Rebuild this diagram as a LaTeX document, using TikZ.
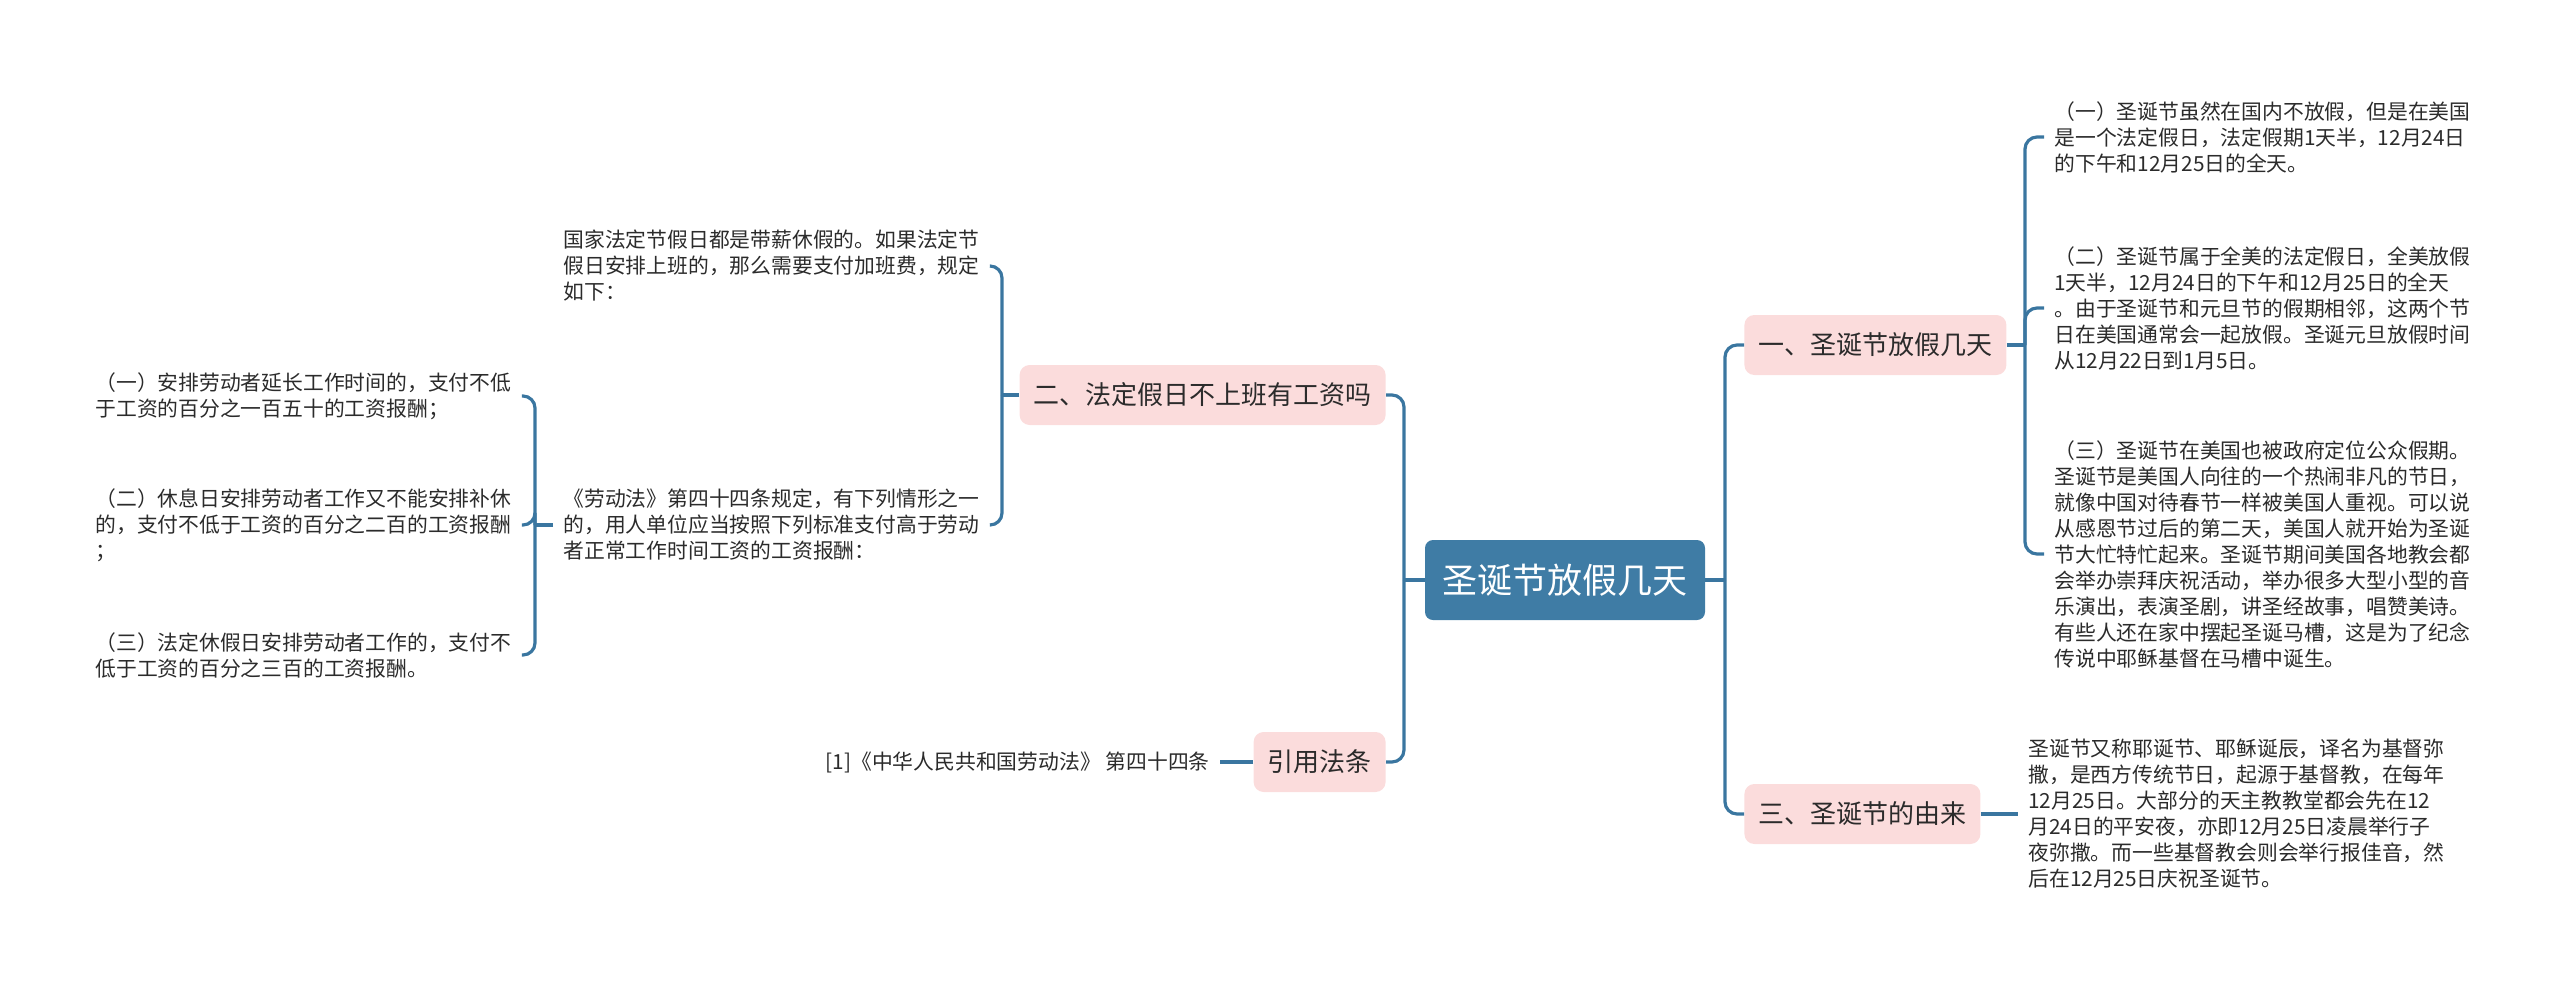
\documentclass[tikz,border=0pt]{standalone}
\usepackage{fontspec}
\newfontfamily\cjk{Noto Sans CJK SC}
\usepackage{tikz}

\definecolor{rootblue}{HTML}{3F7CA5}
\definecolor{linkblue}{HTML}{3A76A0}
\definecolor{topicpink}{HTML}{FBDCDC}
\definecolor{textgray}{HTML}{2B2B2B}

\begin{document}
\begin{tikzpicture}[
x=0.5pt, y=-0.5pt,
root/.style={fill=rootblue, rounded corners=4pt, text=white, minimum width=140pt, minimum height=40pt, font={\cjk\fontsize{17.5pt}{21pt}\selectfont}},
topic/.style={fill=topicpink, rounded corners=5pt, text=textgray, inner xsep=7pt, minimum height=30pt, font={\cjk\fontsize{13pt}{16pt}\selectfont}},
leaf/.style={align=left, text=textgray, inner xsep=5pt, inner ysep=2pt, font={\cjk\fontsize{10.4pt}{13pt}\selectfont}},
link/.style={draw=linkblue, line width=1.6pt, rounded corners=6pt}
]
\useasboundingbox (0,0) rectangle (2560,991);

\node[root] (xmas) at (1565,580) {圣诞节放假几天};

% right side
\node[topic, anchor=west] (days) at (1744,345) {一、圣诞节放假几天};
\node[topic, anchor=west] (origin) at (1744,814) {三、圣诞节的由来};

\node[leaf, anchor=west] (day1) at (2044,137) {（一）圣诞节虽然在国内不放假，但是在美国\\是一个法定假日，法定假期1天半，12月24日\\的下午和12月25日的全天。};
\node[leaf, anchor=west] (day2) at (2044,308) {（二）圣诞节属于全美的法定假日，全美放假\\1天半，12月24日的下午和12月25日的全天\\。由于圣诞节和元旦节的假期相邻，这两个节\\日在美国通常会一起放假。圣诞元旦放假时间\\从12月22日到1月5日。};
\node[leaf, anchor=west] (day3) at (2044,554) {（三）圣诞节在美国也被政府定位公众假期。\\圣诞节是美国人向往的一个热闹非凡的节日，\\就像中国对待春节一样被美国人重视。可以说\\从感恩节过后的第二天，美国人就开始为圣诞\\节大忙特忙起来。圣诞节期间美国各地教会都\\会举办崇拜庆祝活动，举办很多大型小型的音\\乐演出，表演圣剧，讲圣经故事，唱赞美诗。\\有些人还在家中摆起圣诞马槽，这是为了纪念\\传说中耶稣基督在马槽中诞生。};
\node[leaf, anchor=west] (story) at (2018,814) {圣诞节又称耶诞节、耶稣诞辰，译名为基督弥\\撒，是西方传统节日，起源于基督教，在每年\\12月25日。大部分的天主教教堂都会先在12\\月24日的平安夜，亦即12月25日凌晨举行子\\夜弥撒。而一些基督教会则会举行报佳音，然\\后在12月25日庆祝圣诞节。};

% left side
\node[topic, anchor=east] (wage) at (1386,395) {二、法定假日不上班有工资吗};
\node[topic, anchor=east] (law) at (1386,762) {引用法条};

\node[leaf, anchor=west] (paid) at (553,266) {国家法定节假日都是带薪休假的。如果法定节\\假日安排上班的，那么需要支付加班费，规定\\如下：};
\node[leaf, anchor=west] (rule) at (553,525) {《劳动法》第四十四条规定，有下列情形之一\\的，用人单位应当按照下列标准支付高于劳动\\者正常工作时间工资的工资报酬：};
\node[leaf, anchor=west] (case1) at (85,396) {（一）安排劳动者延长工作时间的，支付不低\\于工资的百分之一百五十的工资报酬；};
\node[leaf, anchor=west] (case2) at (85,525) {（二）休息日安排劳动者工作又不能安排补休\\的，支付不低于工资的百分之二百的工资报酬\\；};
\node[leaf, anchor=west] (case3) at (85,655) {（三）法定休假日安排劳动者工作的，支付不\\低于工资的百分之三百的工资报酬。};
\node[leaf, anchor=east] (article) at (1220,762) {[1]《中华人民共和国劳动法》 第四十四条};

% junctions
\coordinate (jR) at (1725,580);
\coordinate (jL) at (1404,580);
\coordinate (jDays) at (2025,345);
\coordinate (jWage) at (1002,395);
\coordinate (jRule) at (535,525);

\draw[link] (xmas.east) -- (jR);
\draw[link] (jR) |- (days.west);
\draw[link] (jR) |- (origin.west);
\draw[link] (xmas.west) -- (jL);
\draw[link] (jL) |- (wage.east);
\draw[link] (jL) |- (law.east);

\draw[link] (days.east) -- (jDays);
\draw[link] (jDays) |- (day1.west);
\draw[link] (jDays) |- (day2.west);
\draw[link] (jDays) |- (day3.west);
\draw[link] (origin.east) -- (story.west);

\draw[link] (wage.west) -- (jWage);
\draw[link] (jWage) |- (paid.east);
\draw[link] (jWage) |- (rule.east);
\draw[link] (rule.west) -- (jRule);
\draw[link] (jRule) |- (case1.east);
\draw[link] (jRule) |- (case2.east);
\draw[link] (jRule) |- (case3.east);
\draw[link] (law.west) -- (article.east);

\end{tikzpicture}
\end{document}
